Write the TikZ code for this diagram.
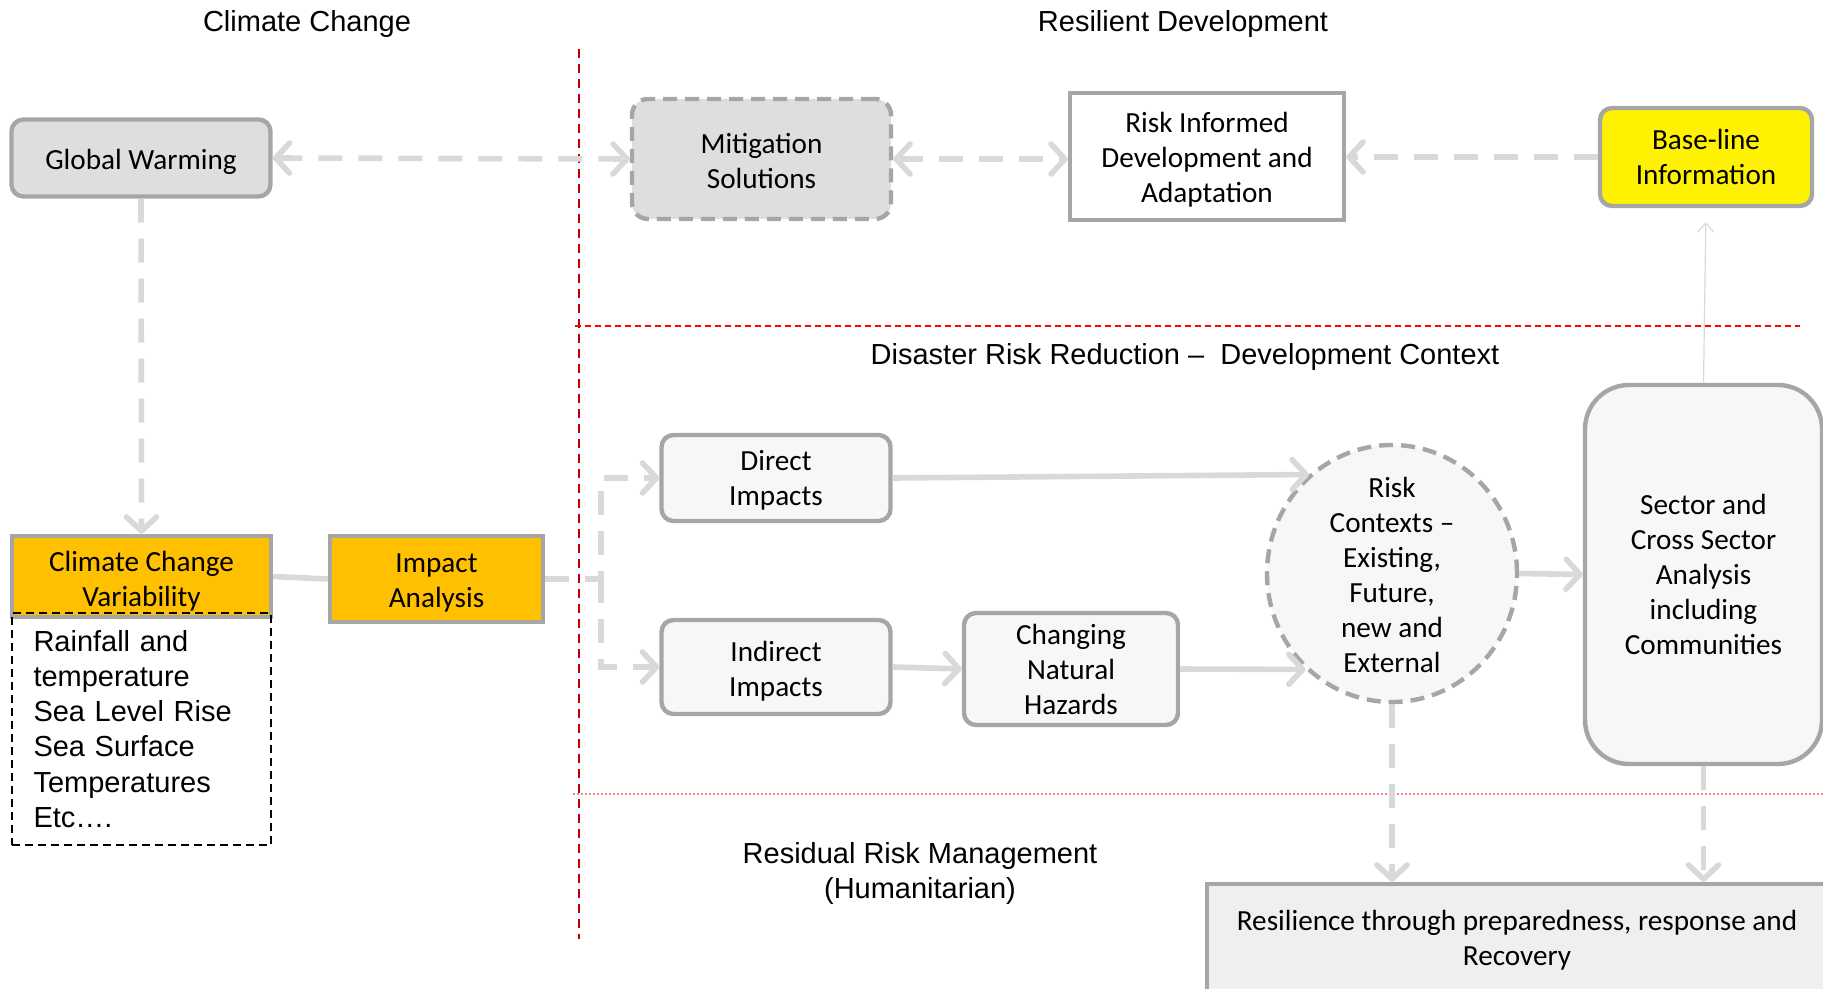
\documentclass[tikz,border=0pt]{standalone}
\usepackage{fontspec}
\setmainfont{Carlito}
\newfontfamily\arialf{Liberation Sans}
\usetikzlibrary{arrows.meta,shapes.geometric}
\definecolor{conn}{HTML}{D9D9D9}
\definecolor{bord}{HTML}{A6A6A6}
\definecolor{gwfill}{HTML}{DEDEDE}
\definecolor{lightfill}{HTML}{F7F7F7}
\definecolor{resfill}{HTML}{EFEFEF}
\definecolor{amber}{HTML}{FFC000}
\definecolor{darkred}{HTML}{C00000}
\definecolor{pinkred}{HTML}{FF7C80}
\newcommand\topstrut[1]{\rule{0pt}{#1}}
\begin{document}
\begin{tikzpicture}[x=0.5pt,y=-0.5pt,
  box/.style={draw=bord, line width=2.2pt, inner sep=0pt, align=center,
    font=\fontsize{14.6}{17.5}\selectfont},
  rbox/.style={box, rounded corners=6pt},
  title/.style={font=\arialf\fontsize{14.5}{17.5}\selectfont, align=center, inner sep=0pt},
  conn/.style={draw=conn, line width=2.8pt},
  dconn/.style={conn, dash pattern=on 12pt off 8pt},
  tip/.style={-{Straight Barb[length=7pt,width=15pt,round]}},
  dtip/.style={{Straight Barb[length=7pt,width=15pt,round]}-{Straight Barb[length=7pt,width=15pt,round]}}
]
\useasboundingbox (0,0) rectangle (1823,989);

% section separators
\draw[darkred, line width=1pt, dash pattern=on 4.5pt off 3pt] (579,49) -- (579,939);
\draw[red, line width=1pt, dash pattern=on 3pt off 2pt] (575,326) -- (1800,326);
\draw[pinkred, line width=0.8pt, dash pattern=on 1pt off 1pt] (573,794) -- (1823,794);

% titles
\node[title] (tcc) at (307,24) {Climate Change};
\node[title] (trd) at (1183,24) {Resilient Development};
\node[title] (tdrr) at (1185,357) {Disaster Risk Reduction – ~Development Context};
\node[title] (trrm) at (920,873) {Residual Risk Management\\(Humanitarian)};

% nodes
\node[rbox, fill=gwfill, minimum width=129.5pt, minimum height=38.5pt] (gw) at (141,158) {\topstrut{14pt}Global Warming};
\node[rbox, rounded corners=8pt, fill=gwfill, dash pattern=on 7pt off 4pt, minimum width=129.5pt, minimum height=60pt] (mit) at (761.5,159) {\topstrut{12pt}Mitigation\\Solutions};
\node[box, fill=white, minimum width=137pt, minimum height=63.5pt] (rid) at (1207,156.5) {\topstrut{13.5pt}Risk Informed\\Development and\\Adaptation};
\node[rbox, fill=yellow, minimum width=106pt, minimum height=49pt] (base) at (1706,157) {Base-line\\Information};

\node[box, fill=amber, minimum width=129.5pt, minimum height=40.5pt] (ccv) at (141.5,576.5) {\topstrut{15pt}Climate Change\\Variability};
\node[draw=black, line width=1pt, dash pattern=on 4pt off 2.5pt, minimum width=129.5pt, minimum height=116pt,
  inner xsep=10.5pt, inner ysep=0pt, text width=108pt, align=left,
  font=\arialf\fontsize{14.5}{17.6}\selectfont] (vlist) at (141.5,729)
  {Rainfall and\\temperature\\Sea Level Rise\\Sea Surface\\Temperatures\\Etc….};
\node[box, fill=amber, minimum width=106.5pt, minimum height=43pt] (ia) at (436.5,579) {\topstrut{13.5pt}Impact\\Analysis};

\node[rbox, fill=lightfill, minimum width=114.5pt, minimum height=43pt] (dir) at (776,478) {\topstrut{12pt}Direct\\Impacts};
\node[rbox, fill=lightfill, minimum width=114.5pt, minimum height=47pt] (ind) at (776,667) {\topstrut{14pt}Indirect\\Impacts};
\node[rbox, fill=lightfill, minimum width=107pt, minimum height=56pt] (chg) at (1071,669) {Changing\\Natural\\Hazards};
\node[ellipse, draw=bord, line width=2.2pt, fill=lightfill, dash pattern=on 7pt off 4pt,
  minimum width=125pt, minimum height=128.5pt, inner sep=0pt,
  label={[align=center, inner sep=0pt, font=\fontsize{14.6}{17.5}\selectfont, yshift=-0.5pt]center:Risk\\Contexts –\\Existing,\\Future,\\new and\\External}] (risk) at (1392,573.5) {};
\node[box, rounded corners=22pt, fill=lightfill, minimum width=118.5pt, minimum height=189.5pt] (sec) at (1703.5,574.5) {Sector and\\Cross Sector\\Analysis\\including\\Communities};
\node[box, fill=resfill, minimum width=310pt, minimum height=56pt] (res) at (1517,940) {Resilience through preparedness, response and\\Recovery};

% connectors
\draw[dconn, dtip] (gw.east) -- (mit.west);
\draw[dconn, dtip] (mit.east) -- (mit.east -| rid.west);
\draw[dconn, tip] (base.west) -- (base.west -| rid.east);
\draw[dconn, tip] (gw.south) -- (ccv.north);
\draw[conn] (ccv.east) -- (ia.west);
\coordinate (elb) at (601,579);
\draw[dconn, tip] (ia.east) -- (elb) |- (dir.west);
\draw[dconn, tip] (elb) |- (ind.west);
\draw[conn, tip] (dir.east) -- (risk.130.4);
\draw[conn, tip] (ind.east) -- (chg.west);
\draw[conn, tip] (chg.east) -- (risk.228.5);
\draw[conn, tip] (risk.east) -- (sec.west);
\draw[draw=conn, line width=0.6pt, -{Straight Barb[length=4.5pt,width=8pt]}, shorten >=7pt] (sec.north) -- (base.south);
\draw[dconn, tip] (risk.south) -- (risk.south |- res.north);
\draw[dconn, tip] (sec.south) -- (sec.south |- res.north);
\end{tikzpicture}
\end{document}
